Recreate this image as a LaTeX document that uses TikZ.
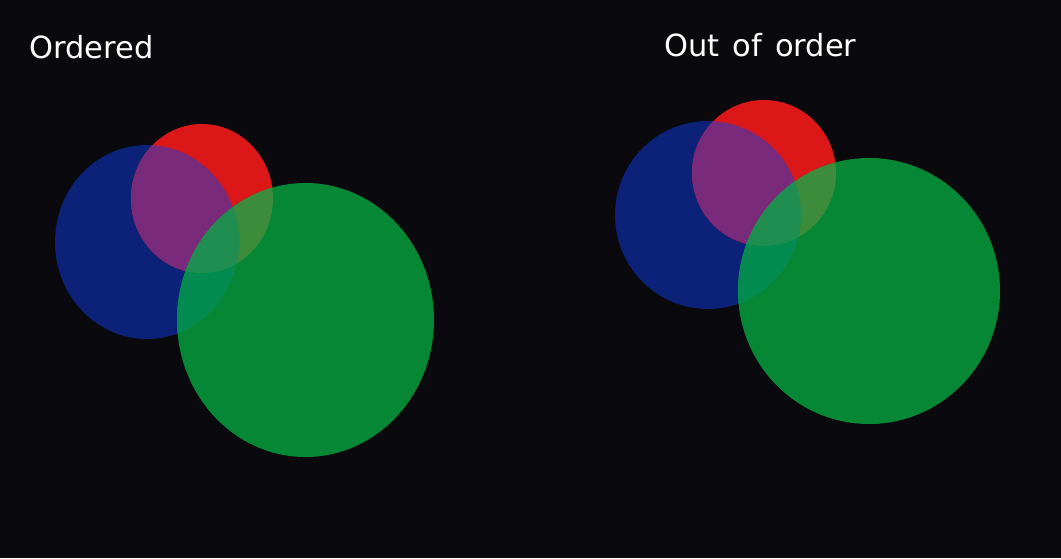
\documentclass[tikz,border=0pt]{standalone}
\usepackage{fontspec}
\setmainfont{DejaVu Sans}[WordSpace=1.35]
\usetikzlibrary{backgrounds}
\definecolor{bgcol}{HTML}{09090E}
\definecolor{bluec}{HTML}{0C2278}
\definecolor{redc}{HTML}{DC1717}
\definecolor{greenc}{HTML}{068735}
\definecolor{rbc}{HTML}{7A2A7A}
\definecolor{rgc}{HTML}{3C8C3C}
\definecolor{bgc}{HTML}{048C50}
\definecolor{rgbc}{HTML}{1F8E50}

\begin{document}
\begin{tikzpicture}[x=1pt,y=-1pt]
    \tikzset{title/.style={anchor=base west, inner sep=0pt, text=white, font=\fontsize{30.5}{36}\selectfont}}
    \fill[bgcol] (0,0) rectangle (1061,558);
    % ordered
    \coordinate (b1) at (147,242);
    \coordinate (r1) at (202,198.5);
    \coordinate (g1) at (305.5,320);
    \fill[bluec] (b1) ellipse [x radius=92, y radius=97];
    \fill[redc] (r1) ellipse [x radius=71, y radius=74.5];
    \fill[greenc] (g1) ellipse [x radius=128.5, y radius=137];
    \begin{scope}
    \clip (r1) ellipse [x radius=71, y radius=74.5];
    \fill[rbc] (b1) ellipse [x radius=92, y radius=97];
    \fill[rgc] (g1) ellipse [x radius=128.5, y radius=137];
    \end{scope}
    \begin{scope}
    \clip (g1) ellipse [x radius=128.5, y radius=137];
    \clip (b1) ellipse [x radius=92, y radius=97];
    \fill[bgc] (b1) ellipse [x radius=92, y radius=97];
    \clip (r1) ellipse [x radius=71, y radius=74.5];
    \fill[rgbc] (r1) ellipse [x radius=71, y radius=74.5];
    \end{scope}
    % out of order
    \coordinate (b2) at (708,215);
    \coordinate (r2) at (764,173);
    \coordinate (g2) at (869,291);
    \fill[bluec] (b2) ellipse [x radius=93, y radius=94];
    \fill[redc] (r2) ellipse [x radius=72, y radius=73];
    \fill[greenc] (g2) ellipse [x radius=131, y radius=133];
    \begin{scope}
    \clip (r2) ellipse [x radius=72, y radius=73];
    \fill[rbc] (b2) ellipse [x radius=93, y radius=94];
    \fill[rgc] (g2) ellipse [x radius=131, y radius=133];
    \end{scope}
    \begin{scope}
    \clip (g2) ellipse [x radius=131, y radius=133];
    \clip (b2) ellipse [x radius=93, y radius=94];
    \fill[bgc] (b2) ellipse [x radius=93, y radius=94];
    \clip (r2) ellipse [x radius=72, y radius=73];
    \fill[rgbc] (r2) ellipse [x radius=72, y radius=73];
    \end{scope}
    \node[title] (t1) at (29.3,58) {Ordered};
    \node[title] (t2) at (664,56) {Out of order};
\end{tikzpicture}
\end{document}
